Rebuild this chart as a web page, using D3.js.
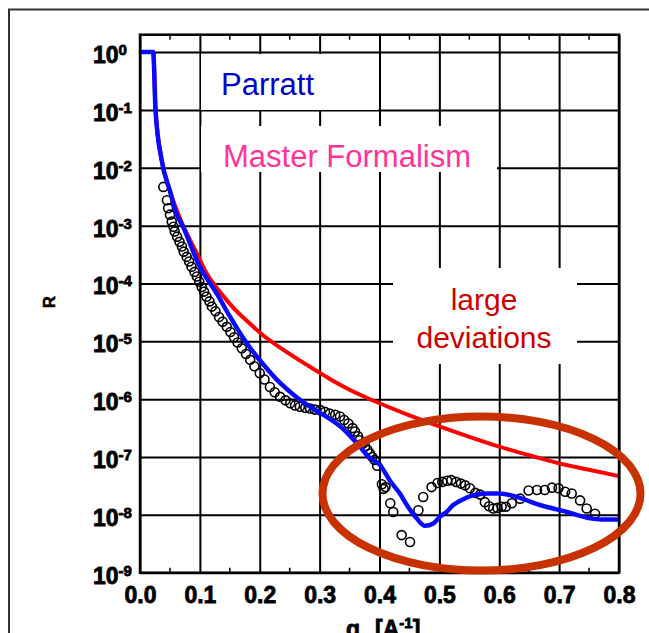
<!DOCTYPE html>
<html>
<head>
<meta charset="utf-8">
<script src="https://cdn.jsdelivr.net/npm/d3@7"></script>
<style>
  body { margin: 0; background: #fff; }
  svg { display: block; }
</style>
</head>
<body>
<div id="chart"></div>
<script>
// measured reflectivity (q in 1/A, log10 of R)
const dataQ = [0.039, 0.045, 0.047, 0.050, 0.053, 0.056, 0.058, 0.062, 0.066, 0.070,
  0.073, 0.078, 0.082, 0.086, 0.091, 0.095, 0.099, 0.103, 0.107, 0.111,
  0.116, 0.120, 0.126, 0.132, 0.138, 0.145, 0.151, 0.157, 0.163, 0.170,
  0.177, 0.184, 0.191, 0.200, 0.208, 0.217, 0.225, 0.234, 0.243, 0.251,
  0.259, 0.267, 0.276, 0.284, 0.292, 0.301, 0.309, 0.317, 0.326, 0.334,
  0.341, 0.348, 0.355, 0.359, 0.364, 0.367, 0.372, 0.376, 0.380, 0.384,
  0.388, 0.392, 0.396, 0.404, 0.407, 0.410, 0.418, 0.423, 0.437, 0.451,
  0.465, 0.473, 0.487, 0.497, 0.505, 0.513, 0.520, 0.528, 0.536, 0.543,
  0.551, 0.560, 0.568, 0.576, 0.583, 0.590, 0.597, 0.604, 0.611, 0.621,
  0.635, 0.649, 0.663, 0.676, 0.688, 0.699, 0.710, 0.721, 0.735, 0.746, 0.760];
const dataLogR = [-2.33, -2.56, -2.70, -2.81, -2.93, -3.02, -3.10, -3.19, -3.28, -3.36,
  -3.45, -3.54, -3.62, -3.71, -3.80, -3.88, -3.97, -4.06, -4.14, -4.23,
  -4.31, -4.40, -4.48, -4.58, -4.66, -4.75, -4.84, -4.93, -5.02, -5.12,
  -5.22, -5.32, -5.43, -5.55, -5.66, -5.79, -5.88, -5.96, -6.02, -6.07,
  -6.11, -6.13, -6.15, -6.16, -6.18, -6.19, -6.22, -6.25, -6.27, -6.30,
  -6.36, -6.42, -6.50, -6.56, -6.64, -6.71, -6.77, -6.82, -6.88, -6.94,
  -7.00, -7.05, -7.15, -7.47, -7.55, -7.52, -7.80, -7.95, -8.35, -8.47,
  -7.92, -7.69, -7.52, -7.45, -7.43, -7.41, -7.40, -7.43, -7.46, -7.49,
  -7.54, -7.62, -7.65, -7.78, -7.85, -7.89, -7.88, -7.86, -7.86, -7.80,
  -7.72, -7.58, -7.57, -7.57, -7.53, -7.54, -7.60, -7.63, -7.75, -7.89, -7.98];

// Parratt calculation
const parrattQ = [0, 0.022, 0.026, 0.036, 0.050, 0.061, 0.072, 0.085, 0.097, 0.112,
  0.128, 0.150, 0.178, 0.206, 0.234, 0.262, 0.290, 0.317, 0.340, 0.367,
  0.384, 0.401, 0.418, 0.434, 0.447, 0.462, 0.476, 0.490, 0.501, 0.512,
  0.523, 0.534, 0.557, 0.580, 0.601, 0.629, 0.668, 0.713, 0.752, 0.770, 0.800];
const parrattLogR = [0, 0, -1.01, -1.86, -2.40, -2.80, -3.02, -3.35, -3.65, -3.92,
  -4.17, -4.57, -5.03, -5.40, -5.72, -5.97, -6.17, -6.34, -6.52, -6.82,
  -7.02, -7.14, -7.42, -7.63, -7.85, -8.06, -8.19, -8.15, -8.03, -7.95,
  -7.83, -7.76, -7.66, -7.63, -7.63, -7.69, -7.83, -7.95, -8.06, -8.08, -8.08];

// master formalism calculation
const masterQ = [0, 0.022, 0.026, 0.036, 0.050, 0.072, 0.095, 0.111, 0.134, 0.156,
  0.180, 0.206, 0.234, 0.262, 0.290, 0.317, 0.345, 0.373, 0.400, 0.450,
  0.500, 0.550, 0.600, 0.650, 0.700, 0.750, 0.800];
const masterLogR = [0, 0, -1.00, -1.85, -2.40, -3.00, -3.48, -3.82, -4.15, -4.42,
  -4.66, -4.90, -5.11, -5.30, -5.48, -5.65, -5.81, -5.95, -6.07, -6.28,
  -6.47, -6.65, -6.82, -6.97, -7.11, -7.22, -7.33];

const xTicks = [0, 0.1, 0.2, 0.3, 0.4, 0.5, 0.6, 0.7, 0.8];
const xMinorTicks = [0.05, 0.15, 0.25, 0.35, 0.45, 0.55, 0.65, 0.75];
const yExponents = [0, -1, -2, -3, -4, -5, -6, -7, -8, -9];

const width = 649;
const height = 633;
const margin = { left: 140, top: 34.7, right: 30, bottom: 60.3 };
const plotW = width - margin.left - margin.right;
const plotH = height - margin.top - margin.bottom;

const svg = d3
  .select("#chart")
  .append("svg")
  .attr("width", width)
  .attr("height", height);

// outer frame of the slide
svg
  .append("path")
  .attr("d", "M9,660 L9,9.5 L660,9.5")
  .attr("fill", "none")
  .attr("stroke", "#333")
  .attr("stroke-width", 2);

const x = d3.scaleLinear().domain([0, 0.8]).range([margin.left, margin.left + plotW]);
const y = d3.scaleLog().domain([2, 1e-9]).range([margin.top, margin.top + plotH]);

const tickFont = "'Liberation Sans Narrow', 'Arial Narrow', 'Liberation Sans', sans-serif";

// grid via the axes
const xAxis = svg
  .append("g")
  .attr("transform", `translate(0,${margin.top + plotH})`)
  .call(
    d3.axisBottom(x)
      .tickValues(xTicks)
      .tickSize(-plotH)
      .tickFormat(d3.format(".1f"))
  );
xAxis.select(".domain").remove();
xAxis.selectAll("line").attr("stroke", "#000").attr("stroke-width", 2);
xAxis
  .selectAll("text")
  .attr("y", 30.5)
  .attr("dy", 0)
  .attr("font-family", tickFont)
  .attr("font-weight", "bold")
  .attr("font-size", 23)
  .attr("fill", "#000")
  .attr("stroke", "#000")
  .attr("stroke-width", 0.8);

const yAxis = svg
  .append("g")
  .attr("transform", `translate(${margin.left},0)`)
  .call(
    d3.axisLeft(y)
      .tickValues(yExponents.map((e) => Math.pow(10, e)))
      .tickSize(-plotW)
      .tickFormat("")
  );
yAxis.select(".domain").remove();
yAxis.selectAll("line").attr("stroke", "#000").attr("stroke-width", 2);

// 10^n labels with superscript
const yLabel = yAxis
  .selectAll(".tick")
  .append("text")
  .attr("x", -47)
  .attr("y", 10.5)
  .attr("text-anchor", "start")
  .attr("font-family", tickFont)
  .attr("font-weight", "bold")
  .attr("fill", "#000")
  .attr("stroke", "#000")
  .attr("stroke-width", 0.8);
yLabel.append("tspan").attr("font-size", 23).text("10");
yLabel
  .append("tspan")
  .attr("font-size", 15)
  .attr("dy", -8)
  .text((d) => String(Math.round(Math.log10(d))));

// minor ticks at top and bottom
const minor = svg.append("g").attr("stroke", "#000").attr("stroke-width", 1.5);
minor
  .selectAll(".mb")
  .data(xMinorTicks)
  .join("line")
  .attr("x1", (d) => x(d))
  .attr("x2", (d) => x(d))
  .attr("y1", margin.top + plotH)
  .attr("y2", margin.top + plotH - 5);
minor
  .selectAll(".mt")
  .data(xMinorTicks)
  .join("line")
  .attr("class", "mt")
  .attr("x1", (d) => x(d))
  .attr("x2", (d) => x(d))
  .attr("y1", margin.top)
  .attr("y2", margin.top + 5);

// white text boxes over the grid
const boxes = [
  [201, 54, 177, 56],
  [201, 126, 296, 46],
  [393, 268, 184, 96],
];
svg
  .append("g")
  .selectAll("rect")
  .data(boxes)
  .join("rect")
  .attr("x", (d) => d[0])
  .attr("y", (d) => d[1])
  .attr("width", (d) => d[2])
  .attr("height", (d) => d[3])
  .attr("fill", "#fff");

const labelFont = "'Liberation Sans', Arial, sans-serif";
svg.append("text")
  .attr("x", 221)
  .attr("y", 95)
  .attr("font-family", labelFont)
  .attr("font-size", 31)
  .attr("fill", "#0000cc")
  .text("Parratt");
svg.append("text")
  .attr("x", 223)
  .attr("y", 166.5)
  .attr("font-family", labelFont)
  .attr("font-size", 31)
  .attr("fill", "#ff3399")
  .text("Master Formalism");
svg.append("text")
  .attr("x", 484)
  .attr("y", 310)
  .attr("text-anchor", "middle")
  .attr("font-family", labelFont)
  .attr("font-size", 30)
  .attr("fill", "#cc0000")
  .text("large");
svg.append("text")
  .attr("x", 484)
  .attr("y", 348)
  .attr("text-anchor", "middle")
  .attr("font-family", labelFont)
  .attr("font-size", 30)
  .attr("fill", "#cc0000")
  .text("deviations");

// curves
const line = d3
  .line()
  .curve(d3.curveMonotoneX)
  .x((d) => x(d[0]))
  .y((d) => y(Math.pow(10, d[1])));

svg.append("path")
  .datum(d3.zip(masterQ, masterLogR))
  .attr("d", line)
  .attr("fill", "none")
  .attr("stroke", "#ff0000")
  .attr("stroke-width", 4);

svg.append("g")
  .attr("fill", "none")
  .attr("stroke", "#000")
  .attr("stroke-width", 1.6)
  .selectAll("circle")
  .data(d3.zip(dataQ, dataLogR))
  .join("circle")
  .attr("cx", (d) => x(d[0]))
  .attr("cy", (d) => y(Math.pow(10, d[1])))
  .attr("r", 4.5);

svg.append("path")
  .datum(d3.zip(parrattQ, parrattLogR))
  .attr("d", line)
  .attr("fill", "none")
  .attr("stroke", "#0a0aff")
  .attr("stroke-width", 4.5);

// plot frame
svg.append("rect")
  .attr("x", margin.left)
  .attr("y", margin.top)
  .attr("width", plotW)
  .attr("height", plotH)
  .attr("fill", "none")
  .attr("stroke", "#000")
  .attr("stroke-width", 2.5);

// highlight ellipse
svg.append("ellipse")
  .attr("cx", 481.5)
  .attr("cy", 493.5)
  .attr("rx", 159)
  .attr("ry", 77)
  .attr("fill", "none")
  .attr("stroke", "#c83200")
  .attr("stroke-width", 8);

// axis titles
svg.append("text")
  .attr("transform", "translate(55,302) rotate(-90)")
  .attr("text-anchor", "middle")
  .attr("font-family", labelFont)
  .attr("font-weight", "bold")
  .attr("font-size", 17)
  .attr("fill", "#000")
  .attr("stroke", "#000")
  .attr("stroke-width", 0.5)
  .text("R");

const xTitle = svg.append("text")
  .attr("x", 346)
  .attr("y", 637)
  .attr("font-family", tickFont)
  .attr("font-weight", "bold")
  .attr("fill", "#000")
  .attr("stroke", "#000")
  .attr("stroke-width", 0.8);
xTitle.append("tspan").attr("font-size", 23).text("q");
xTitle.append("tspan").attr("font-size", 23).attr("dx", 15).text("[A");
xTitle.append("tspan").attr("font-size", 15).attr("dy", -9).text("-1");
xTitle.append("tspan").attr("font-size", 23).attr("dy", 9).text("]");
</script>
</body>
</html>
